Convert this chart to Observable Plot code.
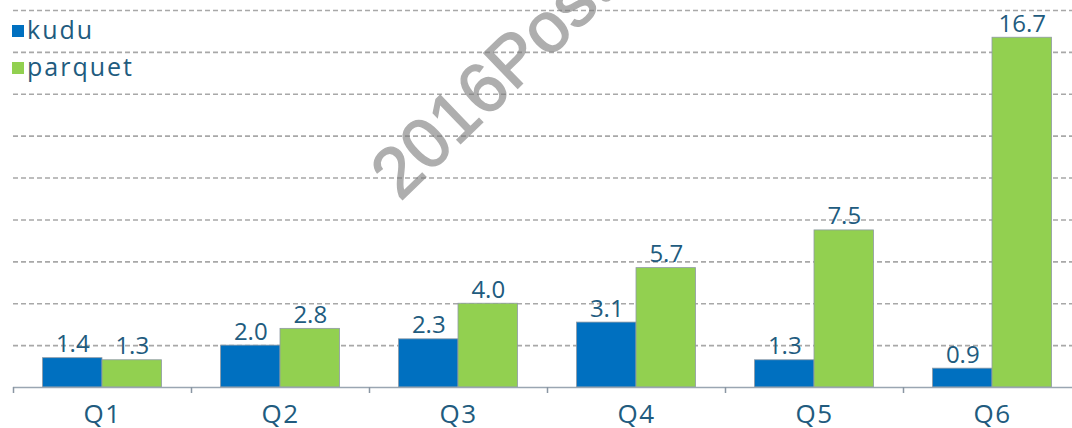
<!DOCTYPE html>
<html>
<head>
<meta charset="utf-8">
<script src="https://cdn.jsdelivr.net/npm/d3@7"></script>
<script src="https://cdn.jsdelivr.net/npm/@observablehq/plot@0.6"></script>
<style>
  html, body { margin: 0; padding: 0; background: #fff; overflow: hidden; }
  #wrap { position: relative; width: 1072px; height: 428px; }
  #legend { position: absolute; left: 12px; top: 11px; font-family: "Open Sans", sans-serif; font-size: 25px; letter-spacing: 2px; color: #215b7e; line-height: 37px; }
  #legend .item { display: flex; align-items: center; }
  #legend .sw { width: 12px; height: 12px; margin-right: 3px; margin-top: 2px; }
  #wrap svg g[aria-label="x-axis tick label"] text { letter-spacing: 1.5px; }
</style>
</head>
<body>
<div id="wrap"><div id="legend"></div></div>
<script>
const categories = ["Q1", "Q2", "Q3", "Q4", "Q5", "Q6"];
const kudu = [1.4, 2.0, 2.3, 3.1, 1.3, 0.9];
const parquet = [1.3, 2.8, 4.0, 5.7, 7.5, 16.7];
const seriesNames = ["kudu", "parquet"];
const seriesColors = ["#0070C0", "#92D050"];
const gridTicks = [2, 4, 6, 8, 10, 12, 14, 16, 18];
const watermarkText = "2016Post";

const rows = categories.map((q, i) => ({q, kudu: kudu[i], parquet: parquet[i]}));
const labelColor = "#215b7e";
const fontFamily = "'Open Sans', sans-serif";

const chart = Plot.plot({
  width: 1072,
  height: 428,
  marginLeft: 13,
  marginRight: 0,
  marginTop: 10,
  marginBottom: 41,
  style: {fontFamily, background: "transparent", overflow: "visible"},
  x: {type: "band", domain: categories, range: [13, 1081], padding: 0},
  y: {domain: [0, 18], axis: null},
  marks: [
    Plot.ruleY(gridTicks, {stroke: "#a8a8a8", strokeWidth: 1.6, strokeDasharray: "5,3"}),
    Plot.barY(rows, {x: "q", y: "kudu", fill: seriesColors[0], stroke: "#8f9aa5", strokeWidth: 0.8, insetLeft: 29.5, insetRight: 89}),
    Plot.barY(rows, {x: "q", y: "parquet", fill: seriesColors[1], stroke: "#8f9aa5", strokeWidth: 0.8, insetLeft: 89, insetRight: 29.5}),
    Plot.text(rows, {x: "q", y: "kudu", text: d => d.kudu.toFixed(1), dx: -29.75, dy: -6, lineAnchor: "bottom", fontSize: 24, fill: labelColor}),
    Plot.text(rows, {x: "q", y: "parquet", text: d => d.parquet.toFixed(1), dx: 29.75, dy: -6, lineAnchor: "bottom", fontSize: 24, fill: labelColor}),
    Plot.ruleY([0], {stroke: "#9aa6b2", strokeWidth: 1.5}),
    Plot.axisX({tickSize: 6, tickFormat: () => "", dx: -89, stroke: "#8a96a3", strokeWidth: 1.5, label: null}),
    Plot.axisX({tickSize: 0, tickPadding: 17, fontSize: 26, fill: labelColor, label: null})
  ]
});

const wrap = document.getElementById("wrap");
wrap.appendChild(chart);

// watermark
d3.select(chart).append("g")
  .attr("opacity", 0.6)
  .append("text")
  .attr("transform", "translate(400,202) rotate(-44)")
  .attr("text-anchor", "start")
  .attr("font-family", "'Liberation Sans', Arial, sans-serif")
  .attr("font-size", 71)
  .attr("fill", "#7a7a7a")
  .attr("stroke", "#7a7a7a")
  .attr("stroke-width", 1.4)
  .text(watermarkText);

// legend
const legend = d3.select("#legend");
seriesNames.forEach((name, i) => {
  const item = legend.append("div").attr("class", "item");
  item.append("span").attr("class", "sw").style("background", seriesColors[i]);
  item.append("span").text(name);
});
</script>
</body>
</html>
